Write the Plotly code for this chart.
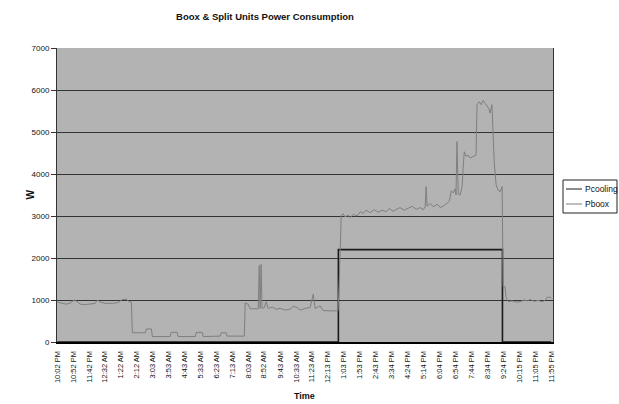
import plotly.graph_objects as go

# ---- data (minutes since 10:02 PM, watts) ----
tick_labels = ["10:02 PM", "10:52 PM", "11:42 PM", "12:32 AM", "1:22 AM", "2:12 AM",
               "3:03 AM", "3:53 AM", "4:43 AM", "5:33 AM", "6:23 AM", "7:13 AM",
               "8:03 AM", "8:52 AM", "9:43 AM", "10:33 AM", "11:23 AM", "12:13 PM",
               "1:03 PM", "1:53 PM", "2:43 PM", "3:34 PM", "4:24 PM", "5:14 PM",
               "6:04 PM", "6:54 PM", "7:44 PM", "8:34 PM", "9:24 PM", "10:15 PM",
               "11:05 PM", "11:55 PM"]

boox_t = [0, 9, 19, 28, 41, 53, 63, 72, 88, 104, 119, 126, 135, 151, 173, 192, 204, 217,
          226, 233, 236, 277, 280, 296, 299, 355, 358, 377, 380, 434, 437, 456, 459, 512,
          516, 531, 534, 588, 591, 600, 607, 632, 635, 638, 641, 644, 651, 657, 663, 676,
          688, 701, 717, 732, 742, 754, 764, 780, 795, 805, 811, 827, 836, 858, 883, 887,
          893, 899, 905, 915, 921, 931, 943, 953, 962, 971, 984, 997, 1009, 1022, 1034,
          1044, 1056, 1069, 1078, 1091, 1103, 1116, 1129, 1141, 1151, 1157, 1160, 1163,
          1173, 1182, 1195, 1204, 1217, 1226, 1233, 1239, 1245, 1251, 1254, 1257, 1261,
          1267, 1273, 1276, 1280, 1286, 1292, 1298, 1308, 1317, 1320, 1327, 1333, 1339,
          1346, 1352, 1358, 1361, 1367, 1374, 1380, 1386, 1393, 1399, 1402, 1408, 1411,
          1418, 1430, 1443, 1456, 1468, 1478, 1487, 1500, 1512, 1525, 1534, 1540, 1550,
          1553]
boox_w = [950, 930, 920, 900, 930, 1000, 960, 900, 890, 900, 920, 1000, 950, 920, 920, 940,
          1010, 1020, 960, 950, 220, 220, 310, 310, 130, 130, 230, 230, 130, 130, 230, 230,
          130, 140, 220, 220, 140, 140, 930, 900, 790, 790, 1820, 800, 1850, 800, 820, 960,
          800, 830, 780, 800, 760, 780, 850, 820, 760, 800, 820, 1140, 800, 860, 750, 740,
          745, 1500, 3020, 3050, 2980, 3020, 2960, 3040, 3000, 3100, 3060, 3140, 3080, 3150,
          3090, 3140, 3100, 3180, 3110, 3170, 3200, 3140, 3190, 3230, 3160, 3200, 3150, 3220,
          3700, 3230, 3300, 3220, 3280, 3200, 3250, 3320, 3350, 3600, 3550, 3650, 3500, 4770,
          3520, 3500, 3700, 4100, 4530, 4420, 4450, 4380, 4420, 4450, 5650, 5720, 5650, 5750,
          5680, 5600, 5550, 5450, 5650, 4300, 3750, 3620, 3580, 3700, 1320, 1320, 1080, 960,
          980, 950, 960, 1000, 980, 1010, 970, 990, 960, 990, 1060, 1070, 1040]

cool_t = [0, 884, 884, 1400, 1400, 1553]
cool_w = [0, 0, 2200, 2200, 0, 0]

series_names = ["Pcooling", "Pboox"]
series_colors = ["#1a1a1a", "#7f7f7f"]


def to_minutes(lbl, prev):
    hm, ap = lbl.split()
    h, m = map(int, hm.split(":"))
    h = h % 12 + (12 if ap == "PM" else 0)
    v = h * 60 + m - (22 * 60 + 2)
    while v < prev:
        v += 24 * 60
    return v


tick_vals = []
p = 0
for lbl in tick_labels:
    p = to_minutes(lbl, p)
    tick_vals.append(p)

FONT = "Liberation Sans, Arial, sans-serif"
W, H = 619, 404
L, R, T, B = 57, 66, 48, 62
PW, PH = W - L - R, H - T - B


def px(x):  # window px -> paper x
    return (x - L) / PW


def py(y):  # window px -> paper y
    return (H - B - y) / PH


fig = go.Figure()
fig.add_trace(go.Scatter(x=cool_t, y=cool_w, mode="lines", name=series_names[0],
                         line=dict(color=series_colors[0], width=1.6)))
fig.add_trace(go.Scatter(x=boox_t, y=boox_w, mode="lines", name=series_names[1],
                         line=dict(color=series_colors[1], width=1)))

# Excel-style compact legend drawn in paper coordinates
shapes = [dict(type="rect", xref="paper", yref="paper", x0=px(563), x1=px(617),
               y0=py(213), y1=py(180), fillcolor="white", line=dict(color="#222", width=1),
               layer="above")]
annotations = []
for i, (nm, col) in enumerate(zip(series_names, series_colors)):
    yy = 189 + i * 15
    shapes.append(dict(type="line", xref="paper", yref="paper", x0=px(566), x1=px(582),
                       y0=py(yy), y1=py(yy), line=dict(color=col, width=1)))
    annotations.append(dict(text=nm, x=px(583), y=py(yy), xref="paper", yref="paper",
                            xanchor="left", yanchor="middle", showarrow=False,
                            font=dict(size=8.5)))

annotations += [
    dict(text="<b>W</b>", textangle=-90, x=px(22), y=0.5, xref="paper",
         yref="paper", showarrow=False, font=dict(size=10)),
    dict(text="<b>Time</b>", x=px(304), y=py(396), xref="paper",
         yref="paper", showarrow=False, yanchor="middle", font=dict(size=9)),
]

fig.update_layout(
    width=W, height=H,
    margin=dict(l=L, r=R, t=T, b=B, autoexpand=False),
    paper_bgcolor="white", plot_bgcolor="#b3b3b3",
    font=dict(family=FONT, size=9, color="#111"),
    title=dict(text="<b>Boox & Split Units Power Consumption</b>",
               x=265 / W, xanchor="center", y=1 - 17 / H, yanchor="middle",
               font=dict(size=9.5, family=FONT, color="#111")),
    showlegend=False,
    hovermode=False,
    xaxis=dict(range=[-1, 1559], tickvals=tick_vals, ticktext=tick_labels, tickangle=-90,
               showgrid=False, zeroline=False, showline=True, linecolor="black", linewidth=2,
               ticks="outside", ticklen=4, tickcolor="rgba(0,0,0,0)", tickfont=dict(size=7.5)),
    yaxis=dict(range=[0, 7000], tickvals=list(range(0, 7001, 1000)), showgrid=True,
               gridcolor="#333", gridwidth=1, zeroline=False, showline=True, linecolor="#333",
               linewidth=1, mirror=True, ticks="outside", ticklen=5, tickcolor="#333",
               tickfont=dict(size=8)),
    shapes=shapes,
    annotations=annotations,
)

fig.write_html("out.html", config={"displayModeBar": False},
               post_script="document.body.style.margin='0';document.body.style.overflow='hidden';")
